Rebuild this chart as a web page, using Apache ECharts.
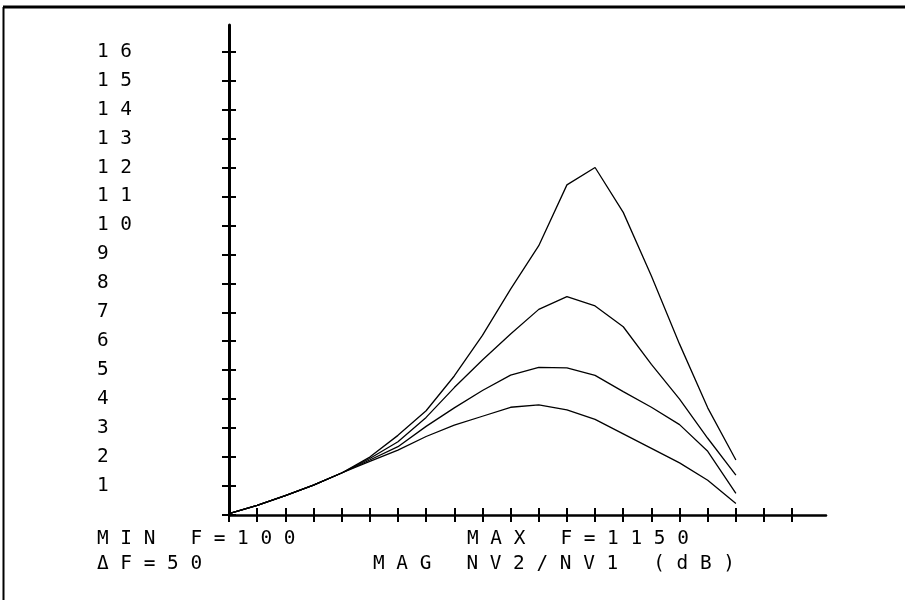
<!DOCTYPE html>
<html>
<head>
<meta charset="utf-8">
<script src="https://cdn.jsdelivr.net/npm/echarts@6/dist/echarts.min.js"></script>
<style>
html,body{margin:0;padding:0;background:#fff;}
#chart{width:905px;height:600px;}
</style>
</head>
<body>
<div id="chart"></div>
<script>
// Frequencies (Hz), step 50
const freqs = [100,150,200,250,300,350,400,450,500,550,600,650,700,750,800,850,900,950,1000];
// Four magnitude curves (dB)
const curveA = [0.05,0.33,0.67,1.03,1.45,2.0,2.75,3.6,4.8,6.2,7.8,9.3,11.4,12.0,10.45,8.25,5.9,3.7,1.9];
const curveB = [0.05,0.33,0.67,1.03,1.45,1.95,2.53,3.37,4.4,5.35,6.25,7.1,7.54,7.22,6.5,5.2,4.0,2.65,1.38];
const curveC = [0.05,0.33,0.67,1.03,1.45,1.9,2.36,3.06,3.7,4.3,4.83,5.1,5.08,4.82,4.26,3.72,3.12,2.2,0.75];
const curveD = [0.05,0.33,0.67,1.03,1.45,1.85,2.24,2.71,3.1,3.41,3.72,3.8,3.63,3.3,2.8,2.3,1.8,1.2,0.4];
// Axis ticks and labels
const xTickValues = [100,150,200,250,300,350,400,450,500,550,600,650,700,750,800,850,900,950,1000,1050,1100];
const yTickValues = [0,1,2,3,4,5,6,7,8,9,10,11,12,13,14,15,16];
const yLabelValues = [1,2,3,4,5,6,7,8,9,10,11,12,13,14,15,16];
const textMinF = 'MIN F=100';
const textMaxF = 'MAX F=1150';
const textDeltaF = '\u0394F=50';
const textTitle = 'MAG NV2/NV1 (dB)';

const FONT = '"DejaVu Sans Mono", "Liberation Mono", monospace';
const FS = 19.4;
const spaced = s => String(s).split('').join(' ');

const chart = echarts.init(document.getElementById('chart'), null, {renderer:'canvas'});

const xMin = 100, xMax = 1160, yMin = 0, yMax = 16.92;

function mk(vals){ return freqs.map((f,i)=>[f, vals[i]]); }

const lineSeries = [curveA, curveB, curveC, curveD].map(v => ({
  type: 'line',
  data: mk(v),
  xAxisIndex: 0,
  yAxisIndex: 0,
  symbol: 'none',
  smooth: false,
  lineStyle: {color: '#000', width: 1.3},
  silent: true
}));

const option = {
  animation: false,
  backgroundColor: '#fff',
  grid: {left: 229, right: 905 - 826, top: 25, bottom: 600 - 515, containLabel: false},
  xAxis: [
    {
      type: 'value', min: xMin, max: xMax, position: 'bottom',
      axisLine: {show: true, onZero: false, lineStyle: {color: '#000', width: 2.5}},
      axisTick: {show: true, inside: false, length: 7, customValues: xTickValues, lineStyle: {color: '#000', width: 2}},
      axisLabel: {show: false},
      splitLine: {show: false}
    },
    {
      type: 'value', min: xMin, max: xMax, position: 'bottom',
      axisLine: {show: false, onZero: false},
      axisTick: {show: true, inside: true, length: 7, customValues: xTickValues, lineStyle: {color: '#000', width: 2}},
      axisLabel: {show: false},
      splitLine: {show: false}
    }
  ],
  yAxis: [
    {
      type: 'value', min: yMin, max: yMax, position: 'left',
      axisLine: {show: true, onZero: false, lineStyle: {color: '#000', width: 3}},
      axisTick: {show: true, inside: false, length: 7, customValues: yTickValues, lineStyle: {color: '#000', width: 2}},
      axisLabel: {
        show: true, customValues: yLabelValues, align: 'left', margin: 132,
        formatter: v => spaced(v),
        fontFamily: FONT, fontSize: FS, color: '#000'
      },
      splitLine: {show: false}
    },
    {
      type: 'value', min: yMin, max: yMax, position: 'left',
      axisLine: {show: false, onZero: false},
      axisTick: {show: true, inside: true, length: 7, customValues: yTickValues, lineStyle: {color: '#000', width: 2}},
      axisLabel: {show: false},
      splitLine: {show: false}
    }
  ],
  series: lineSeries,
  graphic: [
    {type: 'line', shape: {x1: 3, y1: 7, x2: 905, y2: 7}, style: {stroke: '#000', lineWidth: 3}, silent: true},
    {type: 'line', shape: {x1: 3.5, y1: 7, x2: 3.5, y2: 600}, style: {stroke: '#000', lineWidth: 2}, silent: true},
    {type: 'text', style: {x: 97, y: 539, text: spaced(textMinF), font: FS + 'px ' + FONT, fill: '#000', verticalAlign: 'middle', align: 'left'}, silent: true},
    {type: 'text', style: {x: 467, y: 539, text: spaced(textMaxF), font: FS + 'px ' + FONT, fill: '#000', verticalAlign: 'middle', align: 'left'}, silent: true},
    {type: 'text', style: {x: 97, y: 564, text: spaced(textDeltaF), font: FS + 'px ' + FONT, fill: '#000', verticalAlign: 'middle', align: 'left'}, silent: true},
    {type: 'text', style: {x: 373, y: 564, text: spaced(textTitle), font: FS + 'px ' + FONT, fill: '#000', verticalAlign: 'middle', align: 'left'}, silent: true}
  ]
};

chart.setOption(option);
</script>
</body>
</html>
